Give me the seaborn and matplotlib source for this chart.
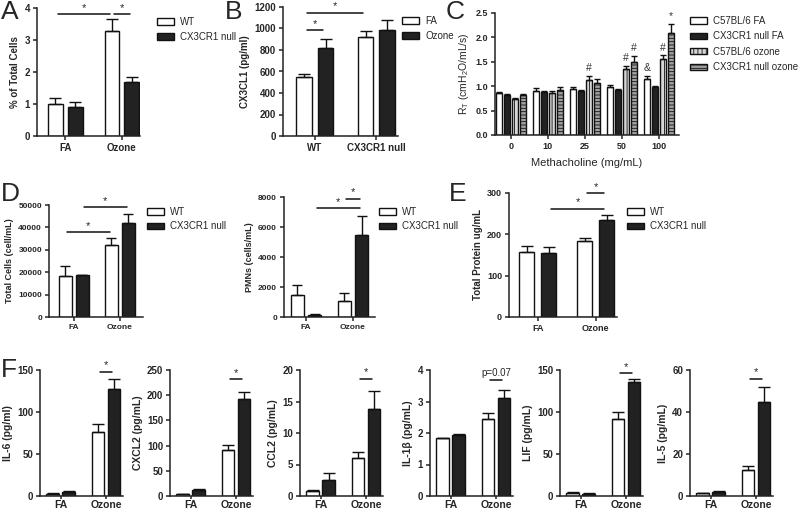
import numpy as np
import pandas as pd
import matplotlib.pyplot as plt
from matplotlib.patches import Patch
import seaborn as sns

sns.set_style("ticks")
plt.rcParams["font.family"] = ["Liberation Sans", "DejaVu Sans"]
plt.rcParams["font.weight"] = "bold"
plt.rcParams["axes.labelweight"] = "bold"
plt.rcParams["axes.linewidth"] = 1.1
plt.rcParams["axes.edgecolor"] = "#222222"
plt.rcParams["xtick.major.size"] = 3
plt.rcParams["ytick.major.size"] = 3
plt.rcParams["xtick.major.width"] = 1.1
plt.rcParams["ytick.major.width"] = 1.1
plt.rcParams["hatch.linewidth"] = 0.6

# ---- data ----
exposures = ["FA", "Ozone"]
genotypes = ["WT", "CX3CR1 null"]

# A: % of total cells
a_wt = [1.00, 3.28]
a_wt_err = [0.20, 0.37]
a_null = [0.92, 1.68]
a_null_err = [0.15, 0.17]

# B: CX3CL1
b_fa = [550, 920]
b_fa_err = [30, 60]
b_oz = [820, 990]
b_oz_err = [85, 90]

# C: airway resistance
mch_doses = ["0", "10", "25", "50", "100"]
c_groups = ["C57BL/6 FA", "CX3CR1 null FA", "C57BL/6 ozone", "CX3CR1 null ozone"]
c_wt_fa = [0.86, 0.91, 0.94, 0.99, 1.15]
c_null_fa = [0.82, 0.88, 0.90, 0.92, 0.98]
c_wt_oz = [0.74, 0.87, 1.13, 1.35, 1.56]
c_null_oz = [0.82, 0.92, 1.07, 1.49, 2.10]
c_wt_fa_err = [0.03, 0.05, 0.04, 0.03, 0.06]
c_null_fa_err = [0.03, 0.02, 0.02, 0.02, 0.02]
c_wt_oz_err = [0.02, 0.03, 0.08, 0.06, 0.07]
c_null_oz_err = [0.03, 0.06, 0.07, 0.13, 0.17]
c_marks = [(2, 2, "#"), (2, 3, "#"), (3, 3, "#"), (2, 4, "#"), (0, 4, "&"), (3, 4, "*")]

# D: BAL cells
d_wt = [18200, 32000]
d_wt_err = [4500, 3300]
d_null = [18600, 42000]
d_null_err = [300, 4000]
pmn_wt = [1450, 1100]
pmn_wt_err = [700, 520]
pmn_null = [150, 5500]
pmn_null_err = [80, 1250]

# E: total protein
e_wt = [157, 185]
e_wt_err = [15, 6]
e_null = [155, 235]
e_null_err = [14, 11]

# F: cytokines
f_labels = ["IL-6 (pg/ml)", "CXCL2 (pg/mL)", "CCL2 (pg/mL)",
            "IL-1\u03b2 (pg/mL)", "LIF (pg/mL)", "IL-5 (pg/mL)"]
f_wt = [[2.5, 76], [3, 92], [0.8, 6.1], [1.83, 2.43], [3.5, 92], [1.2, 12.5]]
f_wt_err = [[0.5, 10], [1, 10], [0.1, 0.9], [0.0, 0.22], [0.8, 8], [0.3, 2]]
f_null = [[4.5, 127], [11, 192], [2.5, 13.8], [1.93, 3.12], [2.5, 136], [1.8, 45]]
f_null_err = [[1, 12], [3, 15], [1.2, 2.9], [0.05, 0.26], [0.5, 3], [0.5, 7]]
f_ymax = [150, 250, 20, 4, 150, 60]
f_step = [50, 50, 5, 1, 50, 20]
f_sig_y = [148, 232, 18.6, 3.69, 146, 55.8]
f_sig_txt = ["*", "*", "*", "p=0.07", "*", "*"]

W, H = 800, 512
fig = plt.figure(figsize=(8, 5.12), dpi=100)


def box(x0, y0, x1, y1):
    return fig.add_axes([x0 / W, 1 - y1 / H, (x1 - x0) / W, (y1 - y0) / H])


def bars(ax, cats, levels, means, errs, colors, width, gap, cap):
    df = pd.DataFrame({
        "x": [c for _ in levels for c in cats],
        "hue": [l for l in levels for _ in cats],
        "y": [v for m in means for v in m],
    })
    sns.barplot(data=df, x="x", y="y", hue="hue", order=cats, hue_order=levels,
                palette=colors, width=width, gap=gap, edgecolor="#111111",
                linewidth=1.0, errorbar=None, legend=False, ax=ax)
    conts = list(ax.containers)
    pos = {}
    for i, cont in enumerate(conts):
        for bar in cont.patches:
            xc = bar.get_x() + bar.get_width() / 2
            j = int(round(xc))
            top = bar.get_height()
            pos[(i, j)] = (xc, top + errs[i][j])
            ax.errorbar(xc, top, yerr=[[0], [errs[i][j]]], fmt="none",
                        ecolor="#111111", elinewidth=1.0, capsize=cap, capthick=1.0)
    ax.set_xlabel("")
    sns.despine(ax=ax)
    return pos, conts


def sig(ax, pos, a, b, y, txt="*", size=8, trim=0.04):
    x1, x2 = pos[a][0] + trim, pos[b][0] - trim
    ax.plot([x1, x2], [y, y], color="#111111", lw=1.1, clip_on=False)
    ax.annotate(txt, ((x1 + x2) / 2, y), xytext=(0, 1), textcoords="offset points",
                ha="center", va="bottom", fontsize=size, fontweight="normal",
                annotation_clip=False)


def legend2(ax, labels, colors, x, y, hatches=None, gap=0.5):
    hatches = hatches or [None] * len(labels)
    handles = [Patch(facecolor=c, edgecolor="#111111", lw=1.0, hatch=h)
               for c, h in zip(colors, hatches)]
    ax.legend(handles, labels, loc="upper left", bbox_to_anchor=(x / W, 1 - y / H),
              bbox_transform=fig.transFigure, frameon=False,
              prop={"size": 7, "weight": "normal"}, handlelength=1.7,
              handleheight=0.6, handletextpad=0.7, labelspacing=gap,
              borderpad=0, borderaxespad=0)


def style(ax, ylim, step, ylabel, xlim, tsize=6.5, lsize=6.5):
    ax.set_ylim(0, ylim)
    ax.set_yticks(np.arange(0, ylim + step / 2, step))
    ax.set_xlim(*xlim)
    ax.set_ylabel(ylabel, fontsize=lsize, labelpad=3)
    ax.tick_params(labelsize=tsize, pad=2)


two = ["white", "#222222"]

# ---- A ----
ax = box(37, 8, 140, 136)
pos, _ = bars(ax, exposures, genotypes, [a_wt, a_null], [a_wt_err, a_null_err],
              two, 0.7, 0.25, 4.5)
style(ax, 4, 1, "% of Total Cells", (-0.5, 1.32), 7, 7)
ax.set_yticklabels(["0", "1", "2", "3", "4"])
sig(ax, pos, (0, 0), (0, 1), 3.8)
sig(ax, pos, (0, 1), (1, 1), 3.8)
legend2(ax, genotypes, two, 157, 17)

# ---- B ----
ax = box(283, 7, 398, 136)
pos, _ = bars(ax, genotypes, exposures, [b_fa, b_oz], [b_fa_err, b_oz_err],
              two, 0.7, 0.28, 4.5)
style(ax, 1200, 200, "CX3CL1 (pg/ml)", (-0.52, 1.35), 7, 7)
sig(ax, pos, (0, 0), (1, 0), 985)
sig(ax, pos, (0, 0), (0, 1), 1145)
legend2(ax, exposures, two, 402, 16)

# ---- C ----
ax = box(495, 13, 679, 135)
c_colors = ["white", "#222222", "#d6d6d6", "#a0a0a0"]
c_hatch = [None, None, "||||", "-----"]
c_means = [c_wt_fa, c_null_fa, c_wt_oz, c_null_oz]
c_errs = [c_wt_fa_err, c_null_fa_err, c_wt_oz_err, c_null_oz_err]
pos, conts = bars(ax, mch_doses, c_groups, c_means, c_errs, c_colors, 0.86, 0.22, 2.2)
for cont, h in zip(conts, c_hatch):
    if h:
        for bar in cont.patches:
            bar.set_hatch(h)
style(ax, 2.5, 0.5, r"R$_\mathregular{T}$ (cmH$_\mathregular{2}$O/mL/s)",
      (-0.43, 4.54), 6.5, 7.5)
ax.yaxis.label.set_fontweight("normal")
ax.set_yticks(np.arange(0, 2.51, 0.5))
ax.set_yticklabels([f"{v:.1f}" for v in np.arange(0, 2.51, 0.5)])
ax.set_xlabel("Methacholine (mg/mL)", fontsize=8, fontweight="normal", labelpad=5)
for lvl, cat, m in c_marks:
    xc, top = pos[(lvl, cat)]
    ax.annotate(m, (xc, top), xytext=(0, 2), textcoords="offset points",
                ha="center", va="bottom", fontsize=7.5, fontweight="normal",
                color="#333333", annotation_clip=False)
legend2(ax, c_groups, c_colors, 690, 16, hatches=c_hatch, gap=0.55)

# ---- D ----
ax = box(49, 205, 143, 317)
pos, _ = bars(ax, exposures, genotypes, [d_wt, d_null], [d_wt_err, d_null_err],
              two, 0.74, 0.24, 3.5)
style(ax, 50000, 10000, "Total Cells (cell/mL)", (-0.54, 1.5), 6, 6.5)
sig(ax, pos, (0, 0), (0, 1), 37900)
sig(ax, pos, (1, 0), (1, 1), 49000)
legend2(ax, genotypes, two, 147, 207, gap=0.45)

ax = box(284, 197, 375, 317)
pos, _ = bars(ax, exposures, genotypes, [pmn_wt, pmn_null], [pmn_wt_err, pmn_null_err],
              two, 0.74, 0.24, 3.5)
style(ax, 8000, 2000, "PMNs (cells/mL)", (-0.47, 1.47), 6, 6.5)
sig(ax, pos, (1, 0), (1, 1), 7250)
sig(ax, pos, (0, 1), (1, 1), 7900)
legend2(ax, genotypes, two, 379, 207, gap=0.45)

# ---- E ----
ax = box(509, 193, 617, 317)
pos, _ = bars(ax, exposures, genotypes, [e_wt, e_null], [e_wt_err, e_null_err],
              two, 0.76, 0.32, 4)
style(ax, 300, 100, "Total Protein ug/mL", (-0.5, 1.37), 6.5, 7)
sig(ax, pos, (1, 0), (1, 1), 262)
sig(ax, pos, (0, 1), (1, 1), 300)
legend2(ax, genotypes, two, 627, 207, gap=0.45)

# ---- F ----
for k in range(6):
    s = 40 + 130 * k
    ax = box(s, 370, s + 83, 496)
    pos, _ = bars(ax, exposures, genotypes, [f_wt[k], f_null[k]],
                  [f_wt_err[k], f_null_err[k]], two, 0.7, 0.22, 4)
    style(ax, f_ymax[k], f_step[k], f_labels[k], (-0.45, 1.37), 7, 7.5)
    ax.tick_params(axis="x", labelsize=7.5, pad=0.5, length=2.5)
    sig(ax, pos, (0, 1), (1, 1), f_sig_y[k], f_sig_txt[k],
        size=7 if k == 3 else 8)

for txt, x, y in [("A", 1, 0), ("B", 225, 0), ("C", 446, 0),
                  ("D", 1, 182), ("E", 449, 182), ("F", 1, 358)]:
    fig.text(x / W, 1 - y / H, txt, fontsize=19, fontweight="normal", va="top")

fig.savefig("out.png", dpi=100)
